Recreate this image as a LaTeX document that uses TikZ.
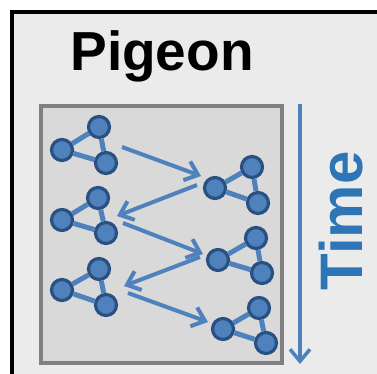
\documentclass[tikz,border=0pt]{standalone}
\usepackage{fontspec}
\setmainfont{Liberation Sans}
\usetikzlibrary{arrows.meta}
\definecolor{framebg}{RGB}{235,235,235}
\definecolor{boxbg}{RGB}{217,217,217}
\definecolor{boxline}{RGB}{128,128,128}
\definecolor{nodefill}{RGB}{79,129,189}
\definecolor{nodeline}{RGB}{40,80,128}
\definecolor{arrowblue}{RGB}{79,129,189}
\definecolor{timeblue}{RGB}{46,117,182}
\tikzset{
  gnode/.style={circle, minimum size=21pt, inner sep=0pt, fill=nodefill, draw=nodeline, line width=3.2pt},
  gedge/.style={draw=nodefill, line width=5pt},
  flow/.style={draw=arrowblue, line width=4pt, -{Straight Barb[length=12pt, width=20pt, line width=4pt]}},
}
\newcommand{\tri}[7]{%
  \node[gnode] (#1l) at (#2,#3) {};
  \node[gnode] (#1t) at (#4,#5) {};
  \node[gnode] (#1b) at (#6,#7) {};
  \draw[gedge] (#1l) -- (#1t);
  \draw[gedge] (#1l) -- (#1b);
  \draw[gedge] (#1t) -- (#1b);
}
\begin{document}
\begin{tikzpicture}[x=1pt,y=-1pt]
\useasboundingbox (0,0) rectangle (377,374);
\clip (0,0) rectangle (377,374);
\fill[white] (0,0) rectangle (377,374);
\draw[line width=4pt, fill=framebg] (12,12) rectangle (385,385);
\node[anchor=base, font=\bfseries\fontsize{55}{60}\selectfont] (title) at (162,71) {Pigeon};
\draw[boxline, line width=3.5pt, fill=boxbg] (41,106) rectangle (282,363);
\tri{a}{62}{150}{99}{127}{106}{163}
\tri{b}{215}{188}{252}{167}{258}{203}
\tri{c}{62}{220}{98}{198}{106}{233}
\tri{d}{218}{260}{256}{238}{262}{273}
\tri{e}{62}{290}{99}{269}{106}{305}
\tri{f}{223}{329}{259}{308}{266}{343}
\coordinate (a1) at (122,147); \coordinate (a2) at (201,176);
\coordinate (b1) at (197,185); \coordinate (b2) at (117,216);
\coordinate (c1) at (123,223); \coordinate (c2) at (203,254);
\coordinate (d1) at (200,257); \coordinate (d2) at (124,286);
\coordinate (e1) at (128,293); \coordinate (e2) at (208,322);
\draw[flow] (a1) -- (a2);
\draw[flow] (b1) -- (b2);
\draw[flow] (c1) -- (c2);
\draw[flow] (d1) -- (d2);
\draw[flow] (e1) -- (e2);
\coordinate (t1) at (300,104); \coordinate (t2) at (300,364);
\draw[draw=arrowblue, line width=3.5pt, -{Straight Barb[length=12pt, width=20pt, line width=3.5pt]}] (t1) -- (t2);
\node[rotate=90, anchor=base, text=timeblue, font=\bfseries\fontsize{60}{64}\selectfont] (time) at (362,221) {Time};
\end{tikzpicture}
\end{document}
